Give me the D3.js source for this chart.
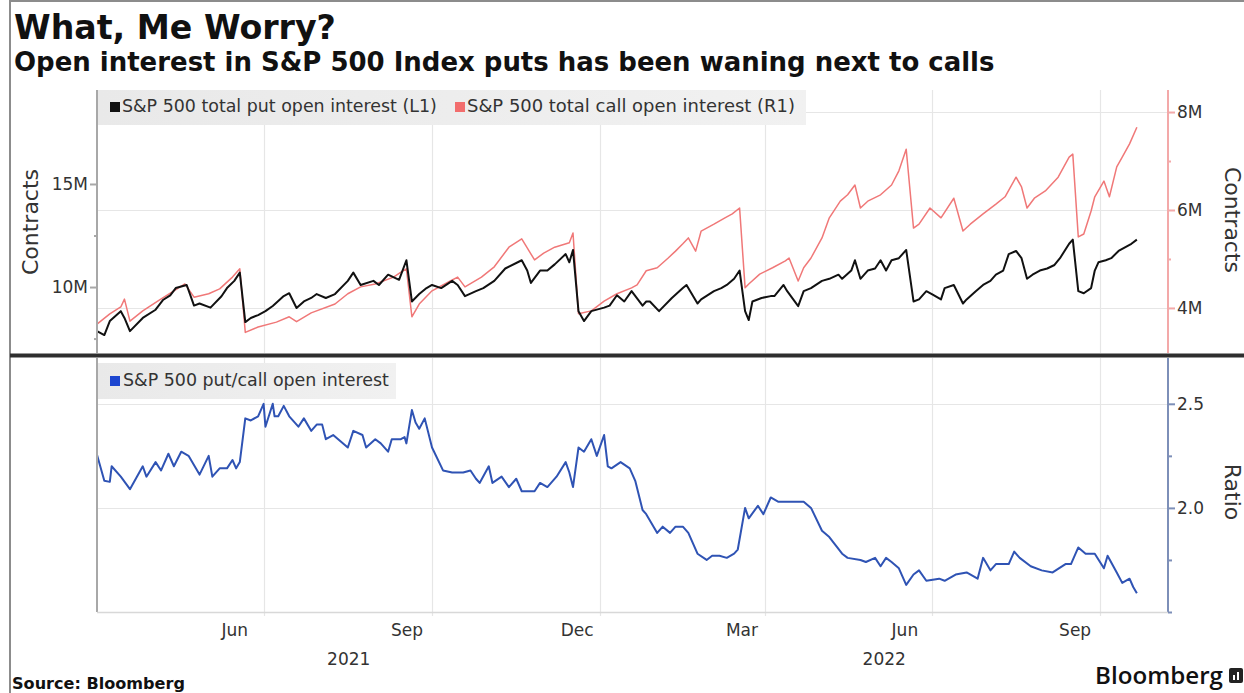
<!DOCTYPE html>
<html><head><meta charset="utf-8">
<script src="https://cdn.jsdelivr.net/npm/d3@7/dist/d3.min.js"></script>
<style>
html,body{margin:0;padding:0;background:#fff;}
svg{display:block;font-family:"DejaVu Sans",Verdana,sans-serif;}
</style></head><body>
<svg id="chart" width="1244" height="693"></svg>
<script>
// ---------------- DATA ----------------
const putDates = ["2021-04-01","2021-04-05","2021-04-08","2021-04-14","2021-04-16","2021-04-19","2021-04-26","2021-05-03","2021-05-07","2021-05-11","2021-05-14","2021-05-20","2021-05-24","2021-05-27","2021-06-02","2021-06-08","2021-06-11","2021-06-15","2021-06-18","2021-06-21","2021-06-24","2021-06-28","2021-07-02","2021-07-06","2021-07-12","2021-07-15","2021-07-19","2021-07-23","2021-07-27","2021-07-30","2021-08-04","2021-08-09","2021-08-16","2021-08-19","2021-08-23","2021-08-30","2021-09-02","2021-09-07","2021-09-13","2021-09-17","2021-09-20","2021-09-24","2021-09-28","2021-10-01","2021-10-06","2021-10-12","2021-10-15","2021-10-19","2021-10-25","2021-10-29","2021-11-04","2021-11-10","2021-11-19","2021-11-22","2021-11-24","2021-11-29","2021-12-03","2021-12-07","2021-12-13","2021-12-15","2021-12-17","2021-12-20","2021-12-23","2021-12-27","2022-01-03","2022-01-06","2022-01-10","2022-01-14","2022-01-18","2022-01-24","2022-01-26","2022-01-28","2022-02-02","2022-02-09","2022-02-15","2022-02-17","2022-02-23","2022-02-25","2022-03-04","2022-03-08","2022-03-11","2022-03-15","2022-03-18","2022-03-21","2022-03-23","2022-03-25","2022-03-30","2022-04-04","2022-04-06","2022-04-11","2022-04-13","2022-04-19","2022-04-22","2022-04-26","2022-05-02","2022-05-06","2022-05-11","2022-05-13","2022-05-18","2022-05-20","2022-05-23","2022-05-27","2022-05-31","2022-06-03","2022-06-06","2022-06-09","2022-06-13","2022-06-17","2022-06-21","2022-06-24","2022-06-28","2022-07-01","2022-07-06","2022-07-08","2022-07-13","2022-07-18","2022-07-20","2022-07-25","2022-07-29","2022-08-02","2022-08-05","2022-08-09","2022-08-12","2022-08-16","2022-08-19","2022-08-22","2022-08-25","2022-08-29","2022-09-02","2022-09-06","2022-09-09","2022-09-14","2022-09-16","2022-09-19","2022-09-22","2022-09-26","2022-09-28","2022-09-30","2022-10-04","2022-10-07","2022-10-11","2022-10-14","2022-10-18","2022-10-21"];
const putValues = [7.86,7.67,8.35,8.83,8.5,7.86,8.5,8.9,9.37,9.6,9.95,10.1,9.1,9.2,9.0,9.55,9.95,10.3,10.7,8.3,8.5,8.64,8.83,9.08,9.56,9.7,8.98,9.3,9.47,9.66,9.47,9.66,10.3,10.7,10.1,10.3,10.1,10.6,10.35,11.3,9.3,9.66,9.95,10.1,9.95,10.3,10.1,9.56,9.8,9.95,10.3,10.9,11.3,10.8,10.2,10.8,10.8,11.1,11.6,11.2,11.8,8.83,8.35,8.83,9.0,9.1,9.6,9.3,9.8,9.1,9.3,9.3,8.83,9.47,9.95,10.1,9.2,9.4,9.8,9.95,10.1,10.4,10.8,8.83,8.4,9.3,9.47,9.56,9.56,10.1,9.8,9.07,9.8,9.95,10.3,10.4,10.6,10.4,10.8,11.3,10.4,10.8,10.9,11.3,10.8,11.3,11.4,11.8,9.3,9.4,9.8,9.66,9.4,9.95,10.1,9.2,9.4,9.8,10.1,10.3,10.6,10.8,11.6,11.75,11.4,10.4,10.6,10.8,10.9,11.07,11.4,12.1,12.3,9.8,9.7,9.95,10.8,11.2,11.3,11.4,11.75,11.9,12.1,12.3];

const callDates = ["2021-04-01","2021-04-08","2021-04-14","2021-04-16","2021-04-19","2021-04-26","2021-05-05","2021-05-13","2021-05-19","2021-05-24","2021-06-01","2021-06-07","2021-06-14","2021-06-18","2021-06-21","2021-06-28","2021-07-08","2021-07-15","2021-07-19","2021-07-27","2021-08-09","2021-08-16","2021-08-23","2021-08-31","2021-09-10","2021-09-14","2021-09-17","2021-09-20","2021-09-24","2021-10-01","2021-10-11","2021-10-15","2021-10-19","2021-10-28","2021-11-04","2021-11-12","2021-11-19","2021-11-26","2021-12-01","2021-12-07","2021-12-15","2021-12-17","2021-12-20","2021-12-27","2022-01-03","2022-01-10","2022-01-18","2022-01-21","2022-01-26","2022-02-01","2022-02-07","2022-02-11","2022-02-15","2022-02-18","2022-02-22","2022-02-25","2022-03-04","2022-03-10","2022-03-14","2022-03-18","2022-03-21","2022-03-23","2022-03-29","2022-04-05","2022-04-12","2022-04-14","2022-04-19","2022-04-22","2022-04-26","2022-05-02","2022-05-06","2022-05-12","2022-05-16","2022-05-20","2022-05-23","2022-05-27","2022-06-03","2022-06-09","2022-06-13","2022-06-17","2022-06-21","2022-06-24","2022-06-30","2022-07-06","2022-07-13","2022-07-18","2022-07-22","2022-07-29","2022-08-05","2022-08-10","2022-08-16","2022-08-19","2022-08-22","2022-08-26","2022-09-01","2022-09-08","2022-09-14","2022-09-16","2022-09-19","2022-09-22","2022-09-26","2022-09-28","2022-10-03","2022-10-06","2022-10-10","2022-10-13","2022-10-17","2022-10-21"];
const callValues = [3.67,3.88,4.02,4.18,3.73,3.94,4.16,4.35,4.49,4.22,4.29,4.39,4.63,4.8,3.5,3.61,3.71,3.82,3.72,3.9,4.08,4.29,4.43,4.49,4.63,4.73,4.8,3.82,4.08,4.35,4.55,4.63,4.43,4.63,4.84,5.24,5.41,4.98,5.12,5.24,5.33,5.53,3.88,3.94,4.14,4.29,4.41,4.47,4.76,4.82,5.02,5.16,5.31,5.43,5.16,5.57,5.71,5.84,5.92,6.04,4.41,4.49,4.69,4.82,4.96,5.02,4.55,4.82,5.02,5.43,5.84,6.18,6.31,6.51,6.04,6.18,6.31,6.51,6.8,7.24,5.63,5.71,6.04,5.84,6.24,5.57,5.71,5.92,6.12,6.27,6.67,6.47,6.04,6.24,6.39,6.67,7.08,7.14,5.45,5.51,5.98,6.27,6.59,6.27,6.88,7.08,7.35,7.69];

const ratioDates = ["2021-04-01","2021-04-05","2021-04-08","2021-04-09","2021-04-14","2021-04-19","2021-04-26","2021-04-28","2021-05-03","2021-05-06","2021-05-10","2021-05-13","2021-05-17","2021-05-21","2021-05-27","2021-06-01","2021-06-03","2021-06-07","2021-06-11","2021-06-14","2021-06-16","2021-06-18","2021-06-21","2021-06-24","2021-06-28","2021-07-01","2021-07-02","2021-07-06","2021-07-07","2021-07-09","2021-07-12","2021-07-15","2021-07-20","2021-07-23","2021-07-27","2021-07-30","2021-08-02","2021-08-04","2021-08-08","2021-08-16","2021-08-19","2021-08-24","2021-08-26","2021-08-31","2021-09-03","2021-09-07","2021-09-09","2021-09-14","2021-09-16","2021-09-17","2021-09-20","2021-09-22","2021-09-24","2021-09-27","2021-10-01","2021-10-07","2021-10-12","2021-10-18","2021-10-22","2021-10-25","2021-10-27","2021-11-01","2021-11-03","2021-11-08","2021-11-12","2021-11-16","2021-11-19","2021-11-26","2021-11-29","2021-12-03","2021-12-08","2021-12-13","2021-12-15","2021-12-17","2021-12-20","2021-12-23","2021-12-27","2021-12-30","2022-01-03","2022-01-05","2022-01-07","2022-01-12","2022-01-17","2022-01-20","2022-01-24","2022-01-26","2022-02-01","2022-02-04","2022-02-08","2022-02-11","2022-02-15","2022-02-18","2022-02-23","2022-02-28","2022-03-03","2022-03-07","2022-03-11","2022-03-15","2022-03-17","2022-03-21","2022-03-23","2022-03-28","2022-03-31","2022-04-04","2022-04-08","2022-04-15","2022-04-22","2022-04-26","2022-05-02","2022-05-06","2022-05-13","2022-05-16","2022-05-23","2022-05-26","2022-05-31","2022-06-03","2022-06-06","2022-06-09","2022-06-13","2022-06-17","2022-06-21","2022-06-24","2022-06-28","2022-07-05","2022-07-08","2022-07-14","2022-07-20","2022-07-26","2022-07-29","2022-08-02","2022-08-05","2022-08-12","2022-08-15","2022-08-18","2022-08-24","2022-08-30","2022-09-05","2022-09-12","2022-09-15","2022-09-19","2022-09-23","2022-09-28","2022-10-03","2022-10-05","2022-10-10","2022-10-13","2022-10-17","2022-10-19","2022-10-21"];
const ratioValues = [2.255,2.13,2.125,2.2,2.15,2.09,2.2,2.15,2.22,2.18,2.26,2.2,2.27,2.25,2.16,2.25,2.15,2.19,2.19,2.23,2.19,2.22,2.43,2.42,2.44,2.5,2.39,2.5,2.44,2.44,2.49,2.44,2.39,2.43,2.37,2.4,2.4,2.33,2.35,2.29,2.37,2.35,2.29,2.33,2.31,2.27,2.33,2.33,2.34,2.31,2.47,2.41,2.38,2.43,2.29,2.18,2.17,2.17,2.18,2.14,2.12,2.2,2.12,2.15,2.1,2.14,2.08,2.08,2.12,2.1,2.15,2.22,2.17,2.1,2.29,2.27,2.33,2.25,2.35,2.2,2.19,2.22,2.19,2.13,1.99,1.97,1.88,1.91,1.88,1.91,1.91,1.88,1.78,1.75,1.77,1.77,1.76,1.78,1.8,2.0,1.95,2.01,1.97,2.05,2.03,2.03,2.03,2.0,1.89,1.86,1.78,1.76,1.75,1.74,1.76,1.72,1.76,1.74,1.71,1.63,1.68,1.7,1.65,1.66,1.65,1.68,1.69,1.66,1.76,1.7,1.73,1.73,1.79,1.76,1.72,1.7,1.69,1.73,1.73,1.81,1.78,1.78,1.71,1.77,1.69,1.64,1.66,1.62,1.59];

const xDomain = ["2021-04-01","2022-11-07"];
const monthLabelDates = ["2021-06-15","2021-09-17","2021-12-19","2022-03-19","2022-06-16","2022-09-17"];
const monthLabels = ["Jun","Sep","Dec","Mar","Jun","Sep"];
const gridDates = ["2021-07-01","2021-10-01","2022-01-01","2022-04-01","2022-07-01","2022-10-01"];
const years = ["2021","2022"];
const putTicks = [10,15], putMinor = [7.5,12.5];
const callTicks = [4,6,8], callMinor = [5,7];
const ratioTicks = [2.0,2.5], ratioMinor = [1.5,1.75,2.25];
const legendTop = ["S&P 500 total put open interest (L1)","S&P 500 total call open interest  (R1)"];
const legendBottom = ["S&P 500 put/call open interest"];
const title = "What, Me Worry?";
const subtitle = "Open interest in S&P 500 Index puts has been waning next to calls";

// ---------------- LAYOUT ----------------
const parse = d3.utcParse("%Y-%m-%d");
const plotL = 97, plotR = 1168;
const topY0 = 90, topY1 = 353, botY0 = 358, botY1 = 612;
const COL = {put:"#111111", call:"#f07878", ratio:"#2f53b4", grid:"#e6e6e6", axisGray:"#a8a8a8",
  callAxis:"#f3a9a9", ratioAxis:"#7d8fb8", text:"#333333"};

const svg = d3.select("#chart");
svg.append("rect").attr("width",1244).attr("height",693).attr("fill","#fff");

const x = d3.scaleUtc().domain(xDomain.map(parse)).range([plotL, plotR]);
const yPut = d3.scaleLinear().domain([6.8, 19.56]).range([topY1, topY0]);
const yCall = d3.scaleLinear().domain([3.08, 8.45]).range([topY1, topY0]);
const yRatio = d3.scaleLinear().domain([1.5, 2.72]).range([botY1, botY0]);

function fitWidth(sel, target){
  const fs = parseFloat(sel.attr("font-size"));
  const w = sel.node().getComputedTextLength();
  if (w > 0) sel.attr("font-size", (fs*target/w).toFixed(2));
}

// frame
svg.append("line").attr("x1",10).attr("x2",10).attr("y1",0).attr("y2",693).attr("stroke","#8c8c8c").attr("stroke-width",2);
svg.append("line").attr("x1",10).attr("x2",1244).attr("y1",1).attr("y2",1).attr("stroke","#8c8c8c").attr("stroke-width",2);

// title
const t1 = svg.append("text").attr("x",14).attr("y",39).attr("font-size",32).attr("font-weight","bold").attr("fill","#111").text(title);
fitWidth(t1, 322);
const t2 = svg.append("text").attr("x",14).attr("y",71).attr("font-size",21).attr("font-weight","bold").attr("fill","#111").text(subtitle);
fitWidth(t2, 981);

// ---------------- gridlines ----------------
const gTop = svg.append("g");
gTop.selectAll("line.hg").data(callTicks).join("line")
  .attr("x1",plotL).attr("x2",plotR).attr("y1",d=>Math.round(yCall(d))+0.5).attr("y2",d=>Math.round(yCall(d))+0.5)
  .attr("stroke",COL.grid).attr("stroke-width",1.2);
gTop.selectAll("line.vg").data(gridDates.map(parse)).join("line")
  .attr("x1",d=>Math.round(x(d))+0.5).attr("x2",d=>Math.round(x(d))+0.5).attr("y1",topY0).attr("y2",topY1)
  .attr("stroke",COL.grid).attr("stroke-width",1.2);

const gBot = svg.append("g");
gBot.selectAll("line.hg").data(ratioTicks).join("line")
  .attr("x1",plotL).attr("x2",plotR).attr("y1",d=>Math.round(yRatio(d))+0.5).attr("y2",d=>Math.round(yRatio(d))+0.5)
  .attr("stroke",COL.grid).attr("stroke-width",1.2);
gBot.selectAll("line.vg").data(gridDates.map(parse)).join("line")
  .attr("x1",d=>Math.round(x(d))+0.5).attr("x2",d=>Math.round(x(d))+0.5).attr("y1",botY0).attr("y2",botY1+4)
  .attr("stroke",COL.grid).attr("stroke-width",1.2);

// ---------------- legends ----------------
function legend(y0, h, w){
  const g = svg.append("g");
  const grad = svg.append("defs").append("linearGradient").attr("id","lg"+y0);
  grad.append("stop").attr("offset","0%").attr("stop-color","#e9e9e9");
  grad.append("stop").attr("offset","100%").attr("stop-color","#f1f1f1");
  g.append("rect").attr("x",plotL+1).attr("y",y0).attr("width",w).attr("height",h).attr("fill",`url(#lg${y0})`);
  return g;
}
const lg1 = legend(topY0, 35, 708);
const legItems = [{t:legendTop[0], c:"#111", mx:110, tx:122, tw:315},{t:legendTop[1], c:"#f26d6d", mx:455, tx:467, tw:328}];
legItems.forEach(it=>{
  lg1.append("rect").attr("x",it.mx).attr("y",topY0+12).attr("width",10).attr("height",10).attr("fill",it.c);
  const tt = lg1.append("text").attr("x",it.tx).attr("y",topY0+22).attr("font-size",14).attr("fill","#333").text(it.t);
  fitWidth(tt, it.tw);
});
const lg2 = legend(botY0+5, 36, 298);
lg2.append("rect").attr("x",110).attr("y",botY0+18).attr("width",10).attr("height",10).attr("fill","#1d46d0");
const lt3 = lg2.append("text").attr("x",123).attr("y",botY0+28).attr("font-size",14).attr("fill","#333").text(legendBottom[0]);
fitWidth(lt3, 266);

// ---------------- lines ----------------
const putData = putDates.map((d,i)=>({d:parse(d), v:putValues[i]}));
const callData = callDates.map((d,i)=>({d:parse(d), v:callValues[i]}));
const ratioData = ratioDates.map((d,i)=>({d:parse(d), v:ratioValues[i]}));

svg.append("path").datum(callData).attr("fill","none").attr("stroke",COL.call).attr("stroke-width",1.5).attr("stroke-linejoin","round")
  .attr("d", d3.line().x(d=>x(d.d)).y(d=>yCall(d.v)));
svg.append("path").datum(putData).attr("fill","none").attr("stroke",COL.put).attr("stroke-width",2).attr("stroke-linejoin","round")
  .attr("d", d3.line().x(d=>x(d.d)).y(d=>yPut(d.v)));
svg.append("path").datum(ratioData).attr("fill","none").attr("stroke",COL.ratio).attr("stroke-width",2).attr("stroke-linejoin","round")
  .attr("d", d3.line().x(d=>x(d.d)).y(d=>yRatio(d.v)));

// ---------------- axes ----------------
function styleAxis(g, lineColor, textColor){
  g.select(".domain").attr("stroke",lineColor).attr("stroke-width",2);
  g.selectAll(".tick line").attr("stroke",lineColor).attr("stroke-width",2);
  g.selectAll(".tick text").attr("fill",textColor).attr("font-size",17).attr("font-family","DejaVu Sans, sans-serif");
}
// left put axis
const aL = svg.append("g").attr("transform",`translate(${plotL},0)`)
  .call(d3.axisLeft(yPut).tickValues(putTicks).tickSize(7).tickPadding(2).tickFormat(d=>d+"M").tickSizeOuter(0));
styleAxis(aL, COL.axisGray, COL.text);
aL.select(".domain").attr("d",`M0,${topY0}V${topY1}`);
const aLm = svg.append("g").attr("transform",`translate(${plotL},0)`)
  .call(d3.axisLeft(yPut).tickValues(putMinor).tickSize(3).tickFormat(""));
aLm.select(".domain").remove(); aLm.selectAll(".tick line").attr("stroke",COL.axisGray).attr("stroke-width",2);

// right call axis
const aR = svg.append("g").attr("transform",`translate(${plotR},0)`)
  .call(d3.axisRight(yCall).tickValues(callTicks).tickSize(7).tickPadding(2).tickFormat(d=>d+"M").tickSizeOuter(0));
styleAxis(aR, COL.callAxis, COL.text);
aR.select(".domain").attr("d",`M0,${topY0}V${topY1}`);
const aRm = svg.append("g").attr("transform",`translate(${plotR},0)`)
  .call(d3.axisRight(yCall).tickValues(callMinor).tickSize(3).tickFormat(""));
aRm.select(".domain").remove(); aRm.selectAll(".tick line").attr("stroke",COL.callAxis).attr("stroke-width",2);

// left bottom axis line
svg.append("line").attr("x1",plotL).attr("x2",plotL).attr("y1",botY0).attr("y2",botY1).attr("stroke",COL.axisGray).attr("stroke-width",2);

// right ratio axis
const aB = svg.append("g").attr("transform",`translate(${plotR},0)`)
  .call(d3.axisRight(yRatio).tickValues(ratioTicks).tickSize(7).tickPadding(2).tickFormat(d3.format(".1f")).tickSizeOuter(0));
styleAxis(aB, COL.ratioAxis, COL.text);
aB.select(".domain").attr("d",`M0,${botY0}V${botY1}`);
const aBm = svg.append("g").attr("transform",`translate(${plotR},0)`)
  .call(d3.axisRight(yRatio).tickValues(ratioMinor).tickSize(4).tickFormat(""));
aBm.select(".domain").remove(); aBm.selectAll(".tick line").attr("stroke",COL.ratioAxis).attr("stroke-width",2);

// x axis
const aX = svg.append("g").attr("transform",`translate(0,${botY1})`)
  .call(d3.axisBottom(x).tickValues(monthLabelDates.map(parse)).tickSize(0).tickPadding(12)
    .tickFormat((d,i)=>monthLabels[i]));
aX.select(".domain").attr("stroke","#d8d8d8").attr("stroke-width",1.5).attr("d",`M${plotL},0.5H${plotR}`);
aX.selectAll(".tick text").attr("fill",COL.text).attr("font-size",17).attr("font-family","DejaVu Sans, sans-serif");

// year labels centred on the visible part of each year
years.forEach(y=>{
  const s = d3.max([parse(y+"-01-01"), x.domain()[0]]);
  const e = d3.min([parse((+y+1)+"-01-01"), x.domain()[1]]);
  svg.append("text").attr("x",(x(s)+x(e))/2).attr("y",botY1+53).attr("text-anchor","middle")
    .attr("font-size",17).attr("fill",COL.text).text(y);
});

// axis titles
svg.append("text").attr("transform",`translate(38,222) rotate(-90)`).attr("text-anchor","middle")
  .attr("font-size",22).attr("fill",COL.text).text("Contracts");
svg.append("text").attr("transform",`translate(1225,220) rotate(90)`).attr("text-anchor","middle")
  .attr("font-size",22).attr("fill",COL.text).text("Contracts");
svg.append("text").attr("transform",`translate(1225,492) rotate(90)`).attr("text-anchor","middle")
  .attr("font-size",22).attr("fill",COL.text).text("Ratio");

// divider between panels
svg.append("line").attr("x1",10).attr("x2",1244).attr("y1",355.5).attr("y2",355.5).attr("stroke","#2e2e2e").attr("stroke-width",4);

// footer
const src = svg.append("text").attr("x",12).attr("y",689).attr("font-size",14).attr("font-weight","bold").attr("fill","#111").text("Source: Bloomberg");
fitWidth(src, 173);
const bb = svg.append("text").attr("x",1095).attr("y",684).attr("font-size",20).attr("font-weight","600").attr("fill","#111")
  .attr("font-family","Open Sans, DejaVu Sans, sans-serif").text("Bloomberg");
fitWidth(bb, 128);
svg.append("rect").attr("x",1229).attr("y",668).attr("width",14).attr("height",15).attr("rx",2).attr("fill","#222");
svg.append("rect").attr("x",1233).attr("y",675).attr("width",2).attr("height",5).attr("fill","#fff");
svg.append("rect").attr("x",1237).attr("y",672).attr("width",2).attr("height",8).attr("fill","#fff");
</script>
</body></html>
